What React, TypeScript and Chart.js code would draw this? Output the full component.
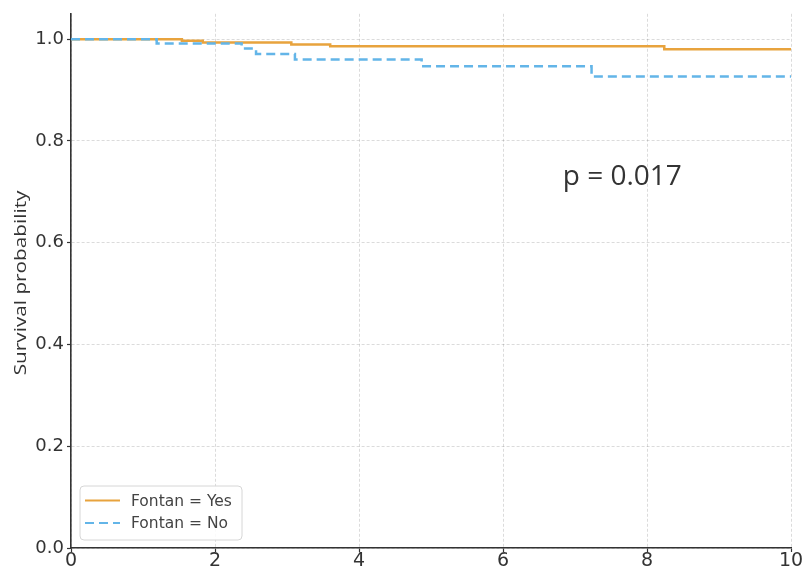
import React, { useEffect, useRef } from "react";
import { Chart, registerables } from "chart.js";

Chart.register(...registerables);

const timesYes = [0, 1.54, 1.83, 3.06, 3.6, 8.24, 10];
const survYes = [1, 0.997, 0.9935, 0.9896, 0.9864, 0.9802, 0.9802];
const timesNo = [0, 1.19, 2.37, 2.57, 3.11, 4.87, 7.23, 10];
const survNo = [1, 0.9916, 0.982, 0.971, 0.96, 0.947, 0.927, 0.927];
const xTicks = [0, 2, 4, 6, 8, 10];
const yTicks = [0, 0.2, 0.4, 0.6, 0.8, 1.0];
const seriesLabels = ["Fontan = Yes", "Fontan = No"];
const yLabel = "Survival probability";
const pText = "p = 0.017";
const pPos = { x: 6.83, y: 0.714 };

const ORANGE = "#E8A33D";
const BLUE = "#63B5E8";
const GRID = "rgba(0,0,0,0.14)";

const extrasPlugin = {
  id: "extras",
  afterDraw(chart: any) {
    const { ctx, chartArea, scales } = chart;
    // p value
    ctx.save();
    ctx.font = '28px "Open Sans"';
    ctx.fillStyle = "#333";
    ctx.textAlign = "left";
    ctx.textBaseline = "alphabetic";
    ctx.fillText(pText, scales.x.getPixelForValue(pPos.x), scales.y.getPixelForValue(pPos.y));
    ctx.restore();

    // y label
    ctx.save();
    ctx.font = '17px "Open Sans"';
    ctx.fillStyle = "#333";
    ctx.textAlign = "center";
    ctx.textBaseline = "alphabetic";
    ctx.translate(26, (chartArea.top + chartArea.bottom) / 2 + 2);
    ctx.rotate(-Math.PI / 2);
    ctx.scale(1.22, 1);
    ctx.fillText(yLabel, 0, 0);
    ctx.restore();

    // legend
    const left = chartArea.left + 9;
    const w = 162;
    const h = 54;
    const top = chartArea.bottom - 8 - h;
    ctx.save();
    ctx.beginPath();
    const r = 4;
    ctx.moveTo(left + r, top);
    ctx.lineTo(left + w - r, top);
    ctx.quadraticCurveTo(left + w, top, left + w, top + r);
    ctx.lineTo(left + w, top + h - r);
    ctx.quadraticCurveTo(left + w, top + h, left + w - r, top + h);
    ctx.lineTo(left + r, top + h);
    ctx.quadraticCurveTo(left, top + h, left, top + h - r);
    ctx.lineTo(left, top + r);
    ctx.quadraticCurveTo(left, top, left + r, top);
    ctx.closePath();
    ctx.fillStyle = "rgba(255,255,255,0.85)";
    ctx.fill();
    ctx.strokeStyle = "#d6d6d6";
    ctx.lineWidth = 1;
    ctx.stroke();
    const rows = [top + 14.5, top + 37];
    chart.data.datasets.forEach((ds: any, i: number) => {
      const y = rows[i];
      ctx.beginPath();
      ctx.setLineDash(ds.borderDash || []);
      ctx.strokeStyle = ds.borderColor;
      ctx.lineWidth = 2.2;
      ctx.moveTo(left + 5, y);
      ctx.lineTo(left + 40, y);
      ctx.stroke();
      ctx.setLineDash([]);
      ctx.font = '15.5px "DejaVu Sans"';
      ctx.fillStyle = "#444";
      ctx.textAlign = "left";
      ctx.textBaseline = "middle";
      ctx.fillText(ds.label, left + 51, y + 1);
    });
    ctx.restore();
  },
};

export default function App() {
  const ref = useRef<HTMLCanvasElement>(null);
  useEffect(() => {
    if (!ref.current) return;
    const chart = new Chart(ref.current, {
      type: "line",
      data: {
        datasets: [
          {
            label: seriesLabels[0],
            data: timesYes.map((t, i) => ({ x: t, y: survYes[i] })),
            borderColor: ORANGE,
            borderWidth: 2.5,
            stepped: true,
            pointRadius: 0,
            fill: false,
            order: 1,
          },
          {
            label: seriesLabels[1],
            data: timesNo.map((t, i) => ({ x: t, y: survNo[i] })),
            borderColor: BLUE,
            borderWidth: 2.5,
            borderDash: [9, 5],
            stepped: true,
            pointRadius: 0,
            fill: false,
            order: 0,
          },
        ],
      },
      options: {
        animation: false,
        responsive: false,
        layout: { padding: { top: 11, right: 12, left: 0, bottom: 0 } },
        plugins: { legend: { display: false }, tooltip: { enabled: false }, title: { display: false } },
        scales: {
          x: {
            type: "linear",
            min: 0,
            max: 10,
            afterBuildTicks: (s: any) => {
              s.ticks = xTicks.map((v) => ({ value: v }));
            },
            afterFit: (s: any) => {
              s.height = 23;
            },
            ticks: {
              font: { family: "DejaVu Sans", size: 19 },
              color: "#333",
              padding: -2,
              maxRotation: 0,
              callback: (v: any) => String(v),
            },
            grid: {
              color: GRID,
              lineWidth: 1,
              tickLength: 4,
              tickColor: "#333",
              tickWidth: 1.2,
              tickBorderDash: [],
            },
            border: { display: true, color: "#333", width: 1.6, dash: [3, 2] },
          },
          y: {
            type: "linear",
            min: 0,
            max: 1.05,
            afterBuildTicks: (s: any) => {
              s.ticks = yTicks.map((v) => ({ value: v }));
            },
            afterFit: (s: any) => {
              s.width = 71;
            },
            ticks: {
              font: { family: "DejaVu Sans", size: 18 },
              color: "#333",
              padding: 3,
              callback: (v: any) => Number(v).toFixed(1),
            },
            grid: {
              color: GRID,
              lineWidth: 1,
              tickLength: 4,
              tickColor: "#333",
              tickWidth: 1.2,
              tickBorderDash: [],
            },
            border: { display: true, color: "#333", width: 1.6, dash: [3, 2] },
          },
        },
      },
      plugins: [extrasPlugin],
    });
    return () => chart.destroy();
  }, []);
  return (
    <div style={{ position: "absolute", left: 0, top: 0, width: 803, height: 571, background: "#fff" }}>
      <canvas ref={ref} width={803} height={571} style={{ width: 803, height: 571, display: "block" }} />
    </div>
  );
}
